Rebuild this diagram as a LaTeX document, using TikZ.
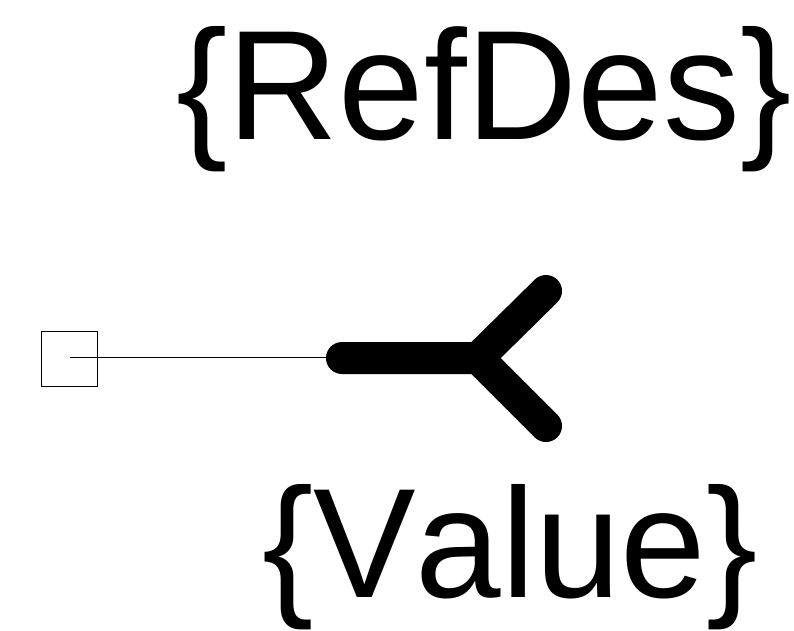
\documentclass[tikz,border=0pt]{standalone}
\usepackage{fontspec}
\setmainfont[Kerning=Off,FakeStretch=0.985]{Liberation Sans}
\tikzset{
    every node/.style={font=\fontsize{156}{156}\selectfont,inner sep=0pt,outer sep=0pt},
    thin line/.style={line width=0.7pt},
    thick line/.style={line width=32pt,line cap=round,line join=round},
    pad node/.style={draw,thin line,rectangle,minimum width=55.6pt,minimum height=55pt}
}
\begin{document}
\begin{tikzpicture}[x=1pt,y=-1pt]
    \useasboundingbox (0,0) rectangle (794,630);
    \node[anchor=base] (refdes) at (484,139.5) {\{RefDes\}};
    \node[anchor=base] (value) at (510,597) {\{Value\}};
    \node[pad node] (pad) at (69.3,358.5) {};
    \coordinate (padpin) at (70,357.5);
    \coordinate (stem) at (342,358);
    \coordinate (fork) at (478,358);
    \coordinate (armup) at (546,291);
    \coordinate (armdown) at (546,426);
    \draw[thin line] (padpin) -- (stem |- padpin);
    \draw[thick line] (stem) -- (fork) -- (armup);
    \draw[thick line] (fork) -- (armdown);
\end{tikzpicture}
\end{document}
